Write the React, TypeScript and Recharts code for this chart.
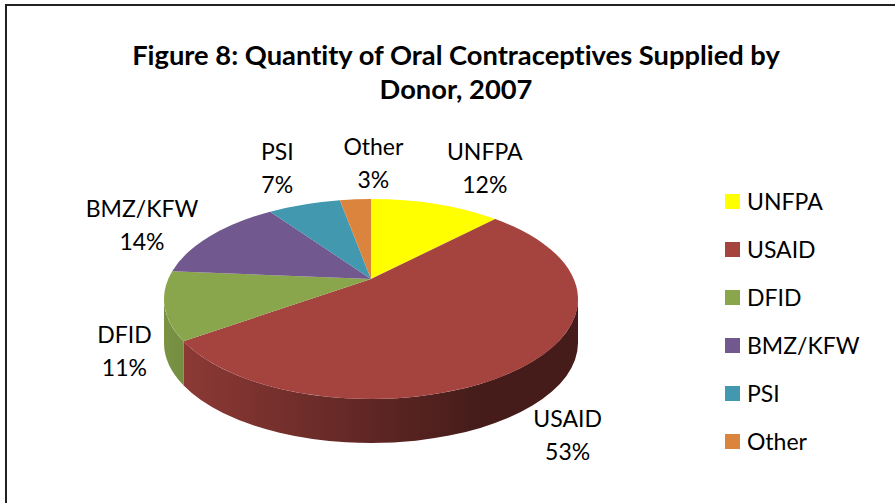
import React from "react";
import { PieChart, Pie, Legend } from "recharts";

const donors = ["UNFPA", "USAID", "DFID", "BMZ/KFW", "PSI", "Other"];
const shares = [12, 53, 11, 14, 7, 3];
const colors = ["#ffff00", "#a5433f", "#8aa64c", "#71588f", "#4198af", "#db843d"];
const titleLines = ["Figure 8: Quantity of Oral Contraceptives Supplied by", "Donor, 2007"];

// label offsets from the rim point of each slice's mid-angle
const labelOffsets: [number, number][] = [[49, -36], [42, 70], [-40, 46], [-69, -11], [-27, -36], [18, -36]];

const data = donors.map((name, i) => ({ name, value: shares[i], fill: colors[i] }));

const FONT = "Lato, 'Open Sans', sans-serif";
const CX = 371, CY = 299, RX = 207, RY = 100, DEPTH = 44, APEX = 20, K_RIGHT = 0.842, K_LEFT = 0.8;

const rad = (d: number) => (d * Math.PI) / 180;
const warpWith = (a: number, k: number) =>
  (2 * Math.atan(k * Math.tan(rad(Math.min(a, 179.99)) / 2)) * 180) / Math.PI;
const warp = (a: number): number => (a > 180 ? 360 - warpWith(360 - a, K_LEFT) : warpWith(a, K_RIGHT));
const rim = (phi: number, dy = 0) => ({
  x: CX + RX * Math.sin(rad(phi)),
  y: CY - RY * Math.cos(rad(phi)) + dy,
});
const shade = (hex: string, f: number) => {
  const n = parseInt(hex.slice(1), 16);
  const c = [(n >> 16) & 255, (n >> 8) & 255, n & 255].map((v) => Math.round(v * f));
  return `rgb(${c[0]},${c[1]},${c[2]})`;
};

function Slice3D(props: any) {
  const { startAngle, endAngle, fill, index } = props;
  const p1 = warp(90 - startAngle);
  const p2 = warp(90 - endAngle);
  const a = rim(p1), b = rim(p2);
  const large = p2 - p1 > 180 ? 1 : 0;
  const top = `M${CX},${CY - APEX}L${a.x},${a.y}A${RX},${RY} 0 ${large} 1 ${b.x},${b.y}Z`;
  const w1 = Math.max(p1, 90), w2 = Math.min(p2, 270);
  const hasWall = w2 > w1;
  const id = `wall-${index}-${String(fill).slice(1)}`;
  let wall = "";
  if (hasWall) {
    const wa = rim(w1), wb = rim(w2), wc = rim(w2, DEPTH), wd = rim(w1, DEPTH);
    const l = w2 - w1 > 180 ? 1 : 0;
    wall = `M${wa.x},${wa.y}A${RX},${RY} 0 ${l} 1 ${wb.x},${wb.y}L${wc.x},${wc.y}A${RX},${RY} 0 ${l} 0 ${wd.x},${wd.y}Z`;
  }
  return (
    <g>
      {hasWall && (
        <>
          <defs>
            <linearGradient id={id} gradientUnits="userSpaceOnUse" x1={164} x2={480} y1={0} y2={0}>
              <stop offset="0" stopColor={shade(fill, 0.88)} />
              <stop offset="1" stopColor={shade(fill, 0.42)} />
            </linearGradient>
          </defs>
          <path d={wall} fill={`url(#${id})`} />
        </>
      )}
      <path d={top} fill={fill} />
    </g>
  );
}

function SliceLabel(props: any) {
  const { midAngle, name, value, index } = props;
  const p = rim(warp(90 - midAngle));
  const [dx, dy] = labelOffsets[index];
  const x = p.x + dx, y = p.y + dy;
  return (
    <text x={x} textAnchor="middle" fontFamily={FONT} fontSize={23} fill="#000">
      <tspan x={x} y={y - 8}>{name}</tspan>
      <tspan x={x} y={y + 25}>{`${value}%`}</tspan>
    </text>
  );
}

function LegendRows({ payload }: any) {
  return (
    <div style={{ fontFamily: FONT, fontSize: 23, color: "#000" }}>
      {(payload || []).map((e: any) => (
        <div key={e.value} style={{ display: "flex", alignItems: "center", height: 48 }}>
          <span style={{ width: 15, height: 15, background: e.color, marginRight: 7 }} />
          <span>{e.value}</span>
        </div>
      ))}
    </div>
  );
}

export default function App() {
  return (
    <div style={{ position: "absolute", left: 0, top: 0, width: 895, height: 503, overflow: "hidden", background: "#fff" }}>
      <div style={{ position: "absolute", left: 5, top: 4, width: 900, height: 520, borderLeft: "2px solid #222", borderTop: "2px solid #222" }} />
      <PieChart width={895} height={503} margin={{ top: 0, right: 0, bottom: 0, left: 0 }}>
        <text textAnchor="middle" fontFamily={FONT} fontSize={27.3} fontWeight={700} fill="#000" style={{ fontVariantLigatures: "none" }}>
          <tspan x={456} y={65}>{titleLines[0]}</tspan>
          <tspan x={456} y={99}>{titleLines[1]}</tspan>
        </text>
        <Pie
          data={data}
          dataKey="value"
          nameKey="name"
          cx={CX}
          cy={CY}
          outerRadius={RX}
          startAngle={90}
          endAngle={-270}
          stroke="none"
          isAnimationActive={false}
          shape={Slice3D}
          label={SliceLabel}
          labelLine={false}
        />
        <Legend
          layout="vertical"
          itemSorter={null}
          content={<LegendRows />}
          wrapperStyle={{ left: 725, top: 177, width: 170 }}
        />
      </PieChart>
    </div>
  );
}
